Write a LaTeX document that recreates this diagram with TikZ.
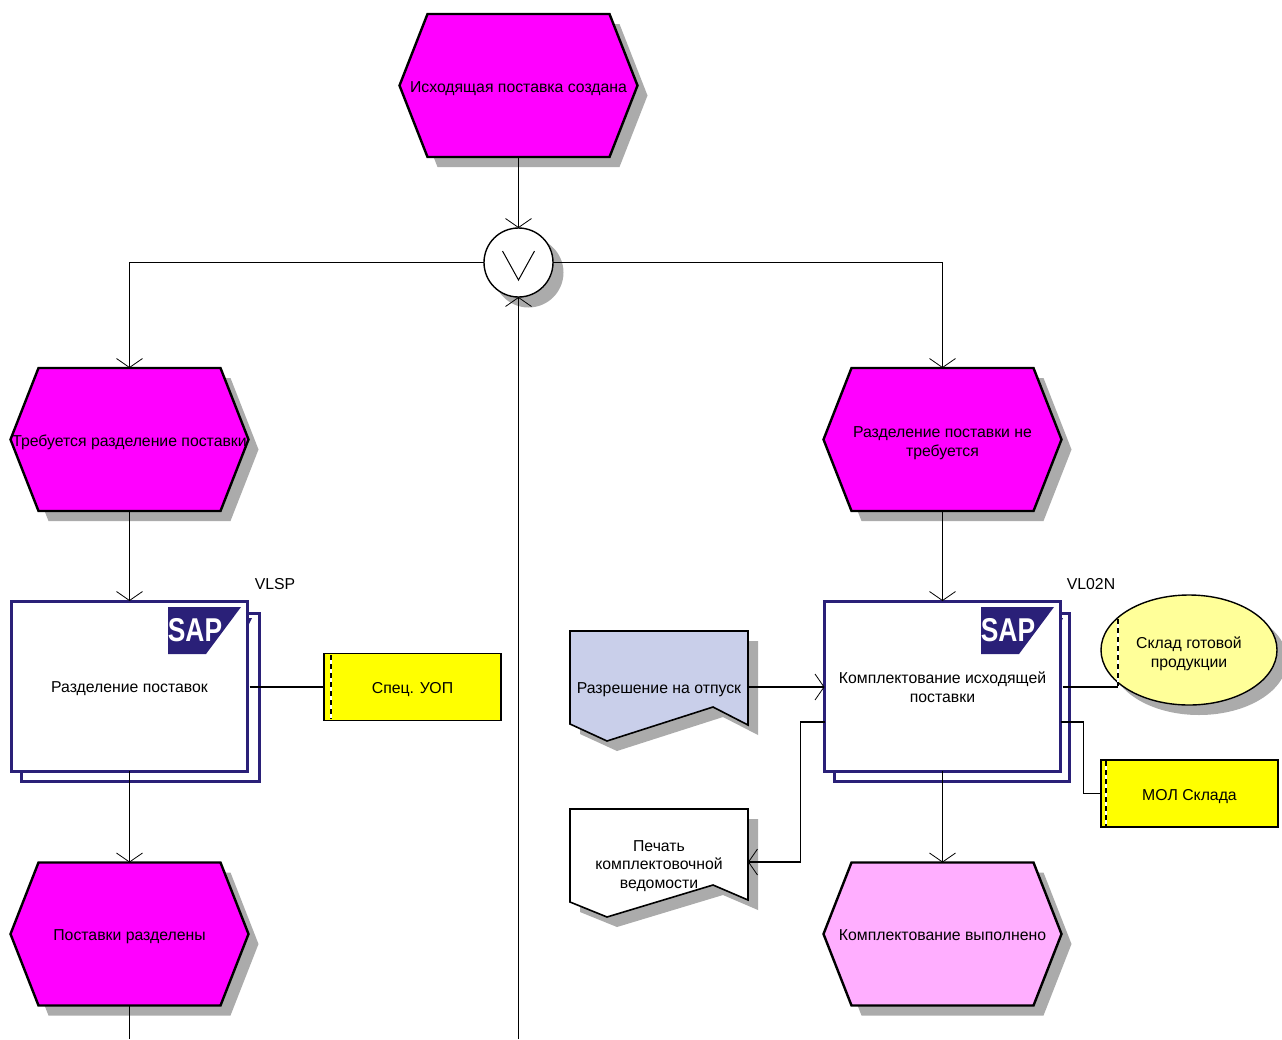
\documentclass[tikz,border=0pt]{standalone}
\usepackage{fontspec}
\setmainfont{Liberation Sans}
\usetikzlibrary{arrows.meta,shapes.geometric}
\definecolor{shadowc}{HTML}{ABABAB}
\definecolor{navyc}{HTML}{2A2078}
\definecolor{evA}{HTML}{FF00FF}
\definecolor{evB}{HTML}{FFAEFF}
\definecolor{docc}{HTML}{C9CFEA}
\definecolor{yelc}{HTML}{FFFF00}
\definecolor{elc}{HTML}{FFFF99}
\tikzset{
  x=1pt,y=-1pt,
  conn/.style={draw=black,line width=1.4pt},
  arr/.style={conn,-{Straight Barb[length=9pt,width=26pt,line width=.8pt]}},
  lbl/.style={font=\fontsize{15.8}{18.7}\selectfont,align=center,inner sep=0pt,outer sep=0pt,text=black,
    execute at begin node={\rule{0pt}{16.5pt}}},
  outl/.style={draw=black,line width=2.4pt,line join=miter},
  hexbox/.style={lbl,rectangle,minimum width=238pt,minimum height=143pt},
  funcbox/.style={lbl,rectangle,draw=navyc,line width=3pt,fill=white,minimum width=236pt,minimum height=170pt},
  rolebox/.style={lbl,rectangle,draw=black,line width=1.6pt,fill=yelc,minimum width=177pt,minimum height=67pt},
  shadowfill/.style={fill=shadowc,draw=none},
}
\newcommand{\hexn}[5]{%
  \begin{scope}[shift={(#2,#3)}]
    \fill[shadowfill] (-91,-71.5) ++(10,10) -- ++(182,0) -- ++(28,71.5) -- ++(-28,71.5) -- ++(-182,0) -- ++(-28,-71.5) -- cycle;
    \path[outl,fill=#4] (-91,-71.5) -- ++(182,0) -- ++(28,71.5) -- ++(-28,71.5) -- ++(-182,0) -- ++(-28,-71.5) -- cycle;
    \node[hexbox] (#1) at (0,0) {#5};
  \end{scope}}
\newcommand{\saplogo}[2]{%
  \begin{scope}[shift={(#1,#2)}]
    \fill[navyc] (0,0) -- (73,0) -- (38,47) -- (0,47) -- cycle;
    \node[inner sep=0pt,text=white,font=\bfseries\fontsize{33}{33}\selectfont,xscale=.8] (#1sap) at (27,23) {SAP};
  \end{scope}}
\newcommand{\dashbar}[3]{%
  \draw[white,line width=1.4pt] (#1,#2) -- (#1,#3);
  \draw[black,line width=1.4pt,dash pattern=on 5pt off 4pt] (#1,#2) -- (#1,#3);}
\newcommand{\tall}[1]{\rule{0pt}{#1pt}}
\newcommand{\deep}{\rule[-3.4pt]{0pt}{1pt}}
\begin{document}
\begin{tikzpicture}
\useasboundingbox (0,0) rectangle (1282,1039);
\fill[white] (0,0) rectangle (1282,1039);

% events
\hexn{e1}{518.5}{85.5}{evA}{Исходящая поставка создана}
\hexn{e2}{129.5}{439.5}{evA}{Требуется разделение поставки}
\hexn{e3}{942.5}{439.5}{evA}{\tall{18.5}Разделение поставки не\\требуется}
\hexn{e4}{129.5}{934}{evA}{Поставки разделены}
\hexn{e5}{942.5}{934}{evB}{\deep Комплектование выполнено}

% operator
\fill[shadowfill] (528.5,272.5) circle (35);
\node[circle,draw=black,line width=1.4pt,fill=white,minimum size=69pt,inner sep=0pt,outer sep=0pt] (op) at (518.5,262.5) {};
\draw[black,line width=1pt] (502.5,251) -- (518.5,280) -- (534.5,251);

% function 1
\draw[navyc,line width=3pt,fill=white] (21,613) rectangle (259,781);
\fill[navyc] (248,618) -- (252,618) -- (249,624) -- cycle;
\node[funcbox] (f1) at (129.5,686) {Разделение поставок};
\saplogo{168}{607}
\node[lbl] (t1) at (275,581.5) {VLSP};

% function 2
\draw[navyc,line width=3pt,fill=white] (834,613) rectangle (1069,781);
\fill[navyc] (1059,618) -- (1063,618) -- (1060,624) -- cycle;
\node[funcbox] (f2) at (942.5,686) {\tall{13.5}Комплектование исходящей\\поставки};
\saplogo{981}{607}
\node[lbl] (t2) at (1091,581.5) {VL02N};

% roles
\node[rolebox] (r1) at (412.5,687) {Спец. УОП};
\dashbar{331}{655}{719}
\node[rolebox] (r2) at (1189.5,793.5) {\deep МОЛ Склада};
\dashbar{1106}{761}{826}

% warehouse
\fill[shadowfill] (1199,660) ellipse (88 and 55);
\node[lbl,ellipse,draw=black,line width=1.4pt,fill=elc,minimum width=176pt,minimum height=110pt] (wh) at (1189,650) {\tall{19}Склад готовой\\продукции};
\dashbar{1118}{619}{686}
\coordinate (whc) at (1118,687);

% documents
\fill[shadowfill] (580,641) -- (758,641) -- (758,735) -- (723,717) -- (617,751) -- (580,734) -- cycle;
\path[outl,fill=docc,line width=1.6pt] (570,631) -- (748,631) -- (748,725) -- (713,707) -- (607,741) -- (570,724) -- cycle;
\node[lbl,rectangle,minimum width=178pt,minimum height=112pt] (d1) at (659,687) {Разрешение на отпуск};
\fill[shadowfill] (580,819) -- (758,819) -- (758,910) -- (723,895) -- (617,927) -- (580,912) -- cycle;
\path[outl,fill=white,line width=1.6pt] (570,809) -- (748,809) -- (748,900) -- (713,885) -- (607,917) -- (570,902) -- cycle;
\node[lbl,rectangle,minimum width=178pt,minimum height=108pt] (d2) at (659,862) {\tall{19}Печать\\комплектовочной\\ведомости};

% connectors
\coordinate (bottomC) at (518.5,1039);
\coordinate (bottomL) at (129.5,1039);
\draw[arr] (e1.south) -- (op.north);
\draw[arr] (op.west) -| (e2.north);
\draw[arr] (op.east) -| (e3.north);
\draw[arr] (bottomC) -- (op.south);
\draw[arr] (e2.south) -- (f1.north);
\draw[arr] (f1.south) -- (e4.north);
\draw[conn] (e4.south) -- (bottomL);
\draw[conn] (f1.east |- r1.west) ++(2,0) -- (r1.west);
\draw[arr] (e3.south) -- (f2.north);
\draw[arr] (f2.south) -- (e5.north);
\draw[arr] (d1.east) -- (f2.west |- d1.east);
\draw[arr] ([yshift=-36pt]f2.west) -- ++(-24,0) |- (d2.east);
\draw[conn] (f2.east |- whc) ++(2,0) -- (whc);
\draw[conn] ([yshift=-36pt]f2.east) -- ++(23,0) |- (r2.west);
\end{tikzpicture}
\end{document}
